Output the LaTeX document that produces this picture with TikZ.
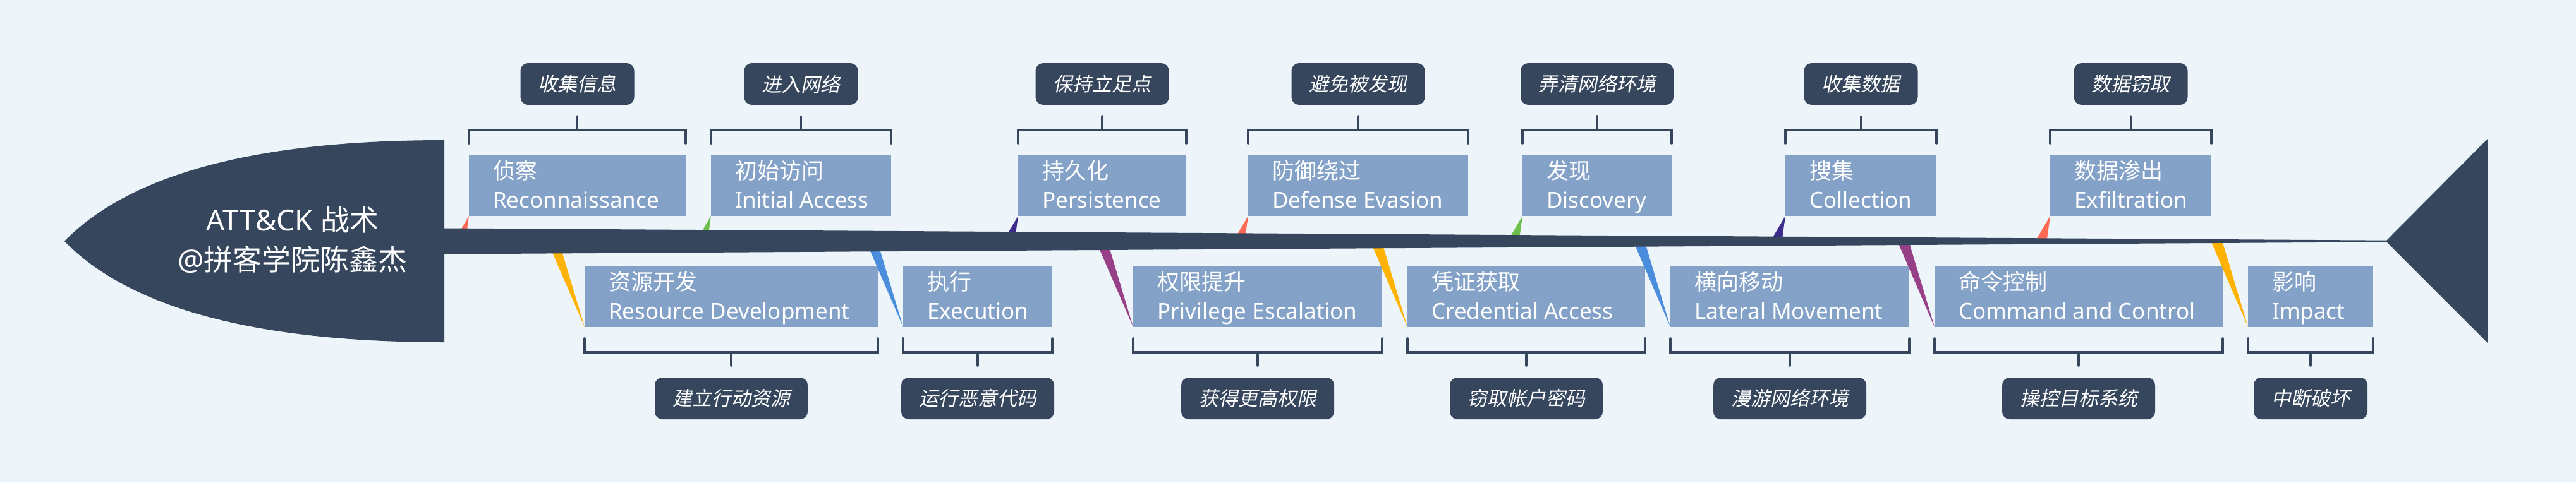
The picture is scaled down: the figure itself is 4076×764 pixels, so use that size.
\documentclass[tikz,border=0pt]{standalone}
\usepackage{fontspec}
\setmainfont{Noto Sans}
\newfontfamily\cjkf{Noto Sans CJK SC}
\newfontfamily\cjkit[FakeSlant=0.2]{Noto Sans CJK SC}
\definecolor{bgc}{HTML}{EDF4FA}
\definecolor{dark}{HTML}{35465D}
\definecolor{boxc}{HTML}{84A2C8}
\definecolor{cred}{HTML}{FF6A55}
\definecolor{cyellow}{HTML}{FFB300}
\definecolor{cgreen}{HTML}{6BC04B}
\definecolor{cblue}{HTML}{4A8DDD}
\definecolor{cindigo}{HTML}{3D2C8D}
\definecolor{cpurple}{HTML}{984087}
\tikzset{
  tbox/.style={fill=boxc, inner sep=0pt, outer sep=0pt, minimum height=96pt},
  zhtxt/.style={text=white, font=\cjkf\fontsize{35}{42}\selectfont, inner sep=0pt, anchor=base west},
  entxt/.style={text=white, font=\fontsize{35}{42}\selectfont, inner sep=0pt, anchor=base west},
  lab/.style={fill=dark, rounded corners=12pt, text=white, font=\cjkit\fontsize{31}{36}\selectfont,
    minimum height=66pt, inner xsep=28pt, inner ysep=0pt, outer sep=0pt},
  brk/.style={draw=dark, line width=3.6pt, line cap=round},
  ttl/.style={text=white, inner sep=0pt, anchor=base, font=\fontsize{46}{52}\selectfont}
}
% top tactic: #1 id, #2 xl, #3 xr, #4 zh, #5 en, #6 label, #7 colour
\newcommand\toptac[7]{%
  \coordinate (#1c) at (#2,342);
  \coordinate (#1s1) at (#2-23.6,382);
  \coordinate (#1s2) at (#2-5.6,382);
  \fill[#7] (#1c) -- (#1s1) -- (#1s2) -- cycle;
  \node[tbox, anchor=north west, minimum width={(#3-#2)*1pt}] (#1) at (#2,246) {};
  \node[zhtxt] (#1zh) at (#2+38,283) {#4};
  \node[entxt] (#1en) at (#2+38,329) {#5};
  \node[lab] (#1lab) at ({(#2+#3)/2},133) {#6};
  \draw[brk] ([yshift=19pt]#1.north west) -- ([yshift=40pt]#1.north west)
     -- ([yshift=40pt]#1.north east) -- ([yshift=19pt]#1.north east);
  \draw[brk, shorten <=18pt] (#1lab.south) -- ([yshift=40pt]#1.north);
}
% bottom tactic
\newcommand\bottac[7]{%
  \coordinate (#1c) at (#2,518);
  \coordinate (#1s1) at (#2-58.8,382);
  \coordinate (#1s2) at (#2-40.8,382);
  \fill[#7] (#1c) -- (#1s1) -- (#1s2) -- cycle;
  \node[tbox, anchor=north west, minimum width={(#3-#2)*1pt}] (#1) at (#2,422) {};
  \node[zhtxt] (#1zh) at (#2+38,459) {#4};
  \node[entxt] (#1en) at (#2+38,505) {#5};
  \node[lab] (#1lab) at ({(#2+#3)/2},631) {#6};
  \draw[brk] ([yshift=-18pt]#1.south west) -- ([yshift=-40pt]#1.south west)
     -- ([yshift=-40pt]#1.south east) -- ([yshift=-18pt]#1.south east);
  \draw[brk, shorten <=19pt] (#1lab.north) -- ([yshift=-40pt]#1.south);
}
\begin{document}
\begin{tikzpicture}[x=1pt, y=-1pt]
\useasboundingbox (0,0) rectangle (4076,764);
\fill[bgc] (0,0) rectangle (4076,764);

\toptac{t1}{742}{1085}{侦察}{Reconnaissance}{收集信息}{cred}
\toptac{t2}{1125}{1410}{初始访问}{Initial Access}{进入网络}{cgreen}
\toptac{t3}{1611}{1877}{持久化}{Persistence}{保持立足点}{cindigo}
\toptac{t4}{1975}{2323}{防御绕过}{Defense Evasion}{避免被发现}{cred}
\toptac{t5}{2409}{2645}{发现}{Discovery}{弄清网络环境}{cgreen}
\toptac{t6}{2825}{3064}{搜集}{Collection}{收集数据}{cindigo}
\toptac{t7}{3244}{3499}{数据渗出}{Exfiltration}{数据窃取}{cred}

\bottac{b1}{925}{1389}{资源开发}{Resource Development}{建立行动资源}{cyellow}
\bottac{b2}{1429}{1665}{执行}{Execution}{运行恶意代码}{cblue}
\bottac{b3}{1793}{2187}{权限提升}{Privilege Escalation}{获得更高权限}{cpurple}
\bottac{b4}{2227}{2603}{凭证获取}{Credential Access}{窃取帐户密码}{cyellow}
\bottac{b5}{2643}{3021}{横向移动}{Lateral Movement}{漫游网络环境}{cblue}
\bottac{b6}{3061}{3517}{命令控制}{Command and Control}{操控目标系统}{cpurple}
\bottac{b7}{3557}{3755}{影响}{Impact}{中断破坏}{cyellow}

% spine
\fill[dark] (703,361.5) -- (3776,380.7) -- (3776,383.3) -- (703,402.5) -- cycle;
% tail
\fill[dark] (3775,382) -- (3936,220) -- (3936,543) -- cycle;
% head
\fill[dark] (102,382) .. controls (206,275.3) and (406.3,222) .. (703,222)
  -- (703,542) .. controls (406.3,542) and (206,488.7) .. (102,382) -- cycle;
\node[ttl] (title1) at (463,365) {ATT\&CK {\cjkf 战术}};
\node[ttl] (title2) at (463,428) {@{\cjkf 拼客学院陈鑫杰}};
\end{tikzpicture}
\end{document}
